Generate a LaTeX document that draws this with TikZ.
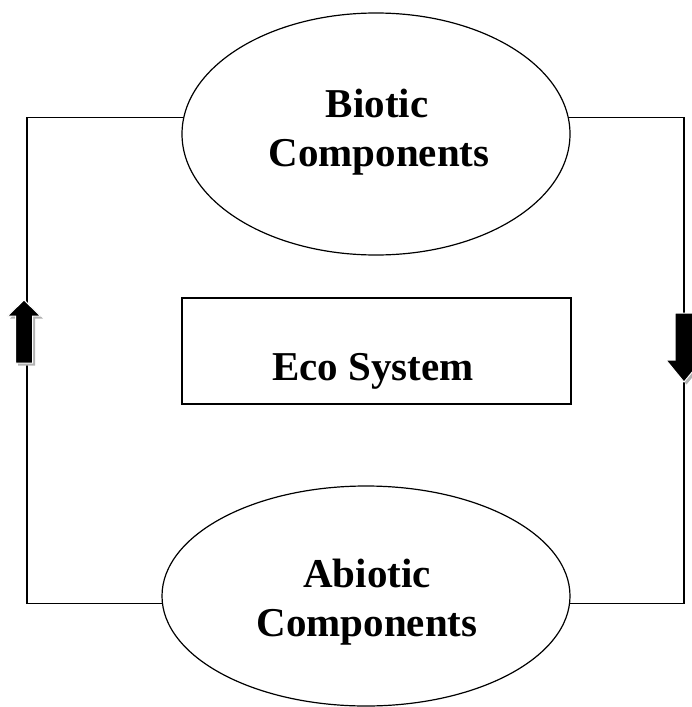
\documentclass[tikz,border=0pt]{standalone}
\usepackage{fontspec}
\setmainfont{Liberation Serif}
\usetikzlibrary{shapes.geometric}
\begin{document}
\begin{tikzpicture}[x=1pt,y=-1pt,
  oval/.style={draw, ellipse, line width=1.2pt, inner sep=0pt, outer sep=0pt},
  frame/.style={draw, rectangle, line width=1.2pt, inner sep=0pt, outer sep=0pt},
  lbl/.style={font=\fontsize{41}{48}\selectfont\bfseries, anchor=base, inner sep=0pt},
  link/.style={line width=1.2pt},
  arrowblk/.style={fill=black, draw=white, line width=1pt},
  arrowshd/.style={fill=black!30}]
\useasboundingbox (0,0) rectangle (691,707);
% shapes
\node[oval, minimum width=388pt, minimum height=242pt] (bio) at (376,134) {};
\node[oval, minimum width=408pt, minimum height=220pt] (abio) at (366,596) {};
\node[frame, minimum width=389pt, minimum height=106pt] (eco) at (376.5,351) {};
% texts
\node[lbl] (t1) at (377,117) {Biotic};
\node[lbl] (t2) at (379,166) {Components};
\node[lbl] (t3) at (373,380) {Eco System};
\node[lbl] (t4) at (367,587) {Abiotic};
\node[lbl] (t5) at (367,636) {Components};
% connectors
\coordinate (lx) at (27,350);
\coordinate (rx) at (684,350);
\draw[link] (bio.175) -| (lx) |- (abio.182);
\draw[link] (bio.5) -| (rx) |- (abio.-2);
% block arrows
\fill[arrowshd, shift={(26.5,302.5)}] (0,0) -- (16.5,16) -- (8.5,16) -- (8.5,63) -- (-8.5,63) -- (-8.5,16) -- (-16.5,16) -- cycle;
\filldraw[arrowblk, shift={(24,300)}] (0,0) -- (16.5,16) -- (8.5,16) -- (8.5,63) -- (-8.5,63) -- (-8.5,16) -- (-16.5,16) -- cycle;
\fill[arrowshd, shift={(686.5,384.5)}] (0,0) -- (18,-22) -- (9,-22) -- (9,-69) -- (-9,-69) -- (-9,-22) -- (-18,-22) -- cycle;
\filldraw[arrowblk, shift={(684,382)}] (0,0) -- (18,-22) -- (9,-22) -- (9,-69) -- (-9,-69) -- (-9,-22) -- (-18,-22) -- cycle;
\end{tikzpicture}
\end{document}
